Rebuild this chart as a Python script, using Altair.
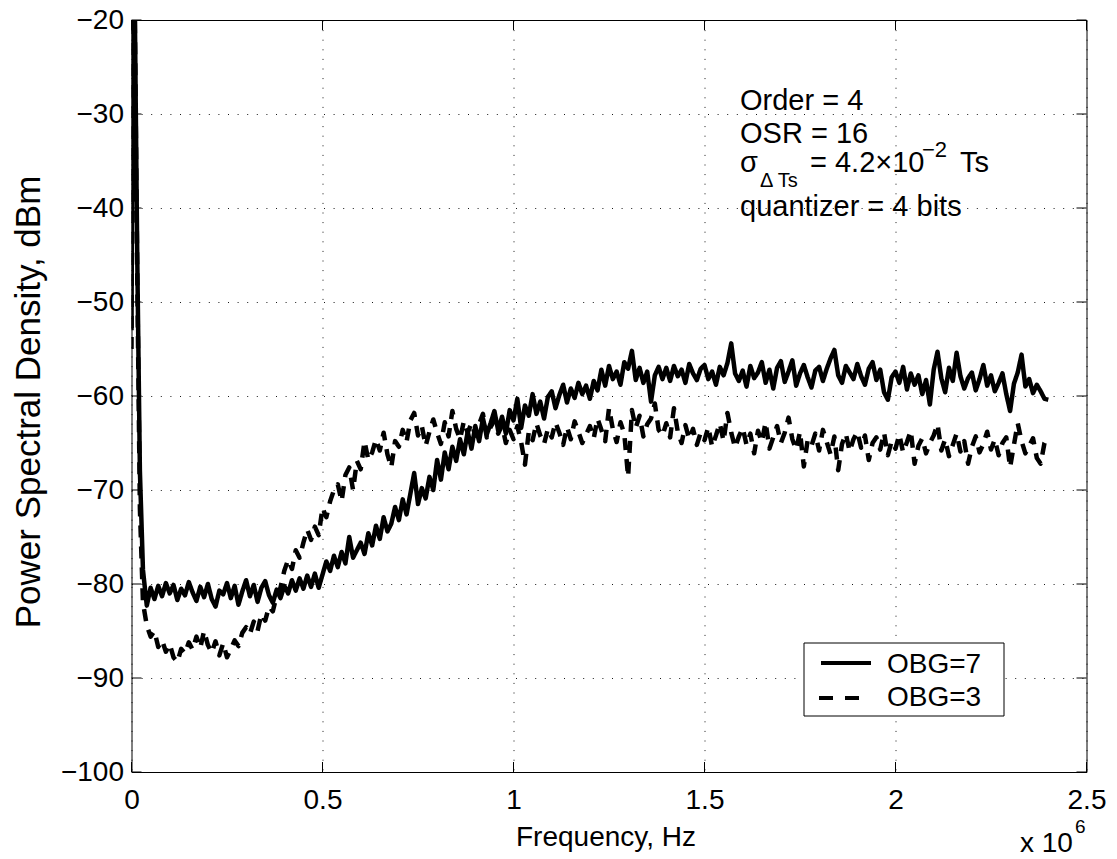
import altair as alt
import pandas as pd

FONT = "Liberation Sans"

# ---- data (frequency in units of 10^6 Hz, PSD in dBm) ----
spike_f = [0.0, 0.004, 0.008, 0.015, 0.022, 0.03]
spike_obg7 = [-53, -12, -16, -45, -68, -78.5]
spike_obg3 = [-55, -13, -17, -47, -72, -82]

F_START = 0.04
F_STEP = 0.01

obg7 = [
    -82.3, -80.4, -81.6, -80.2, -81.3, -79.9,
    -81.0, -80.1, -81.7, -80.5, -81.2, -79.8, -80.9, -81.8, -80.3, -81.4,
    -80.0, -81.6, -82.4, -80.7, -81.1, -79.9, -81.5, -80.2, -82.2, -80.8,
    -79.6, -81.3, -80.1, -81.9, -80.4, -79.7, -81.2, -82.0, -80.6, -81.5,
    -80.2, -81.0, -79.6, -80.7, -79.4, -80.5, -79.1, -80.3, -78.9, -80.4,
    -79.0, -77.6, -78.6, -77.0, -78.2, -76.6, -77.8, -75.0, -77.2, -76.4,
    -75.6, -76.8, -74.6, -75.9, -73.8, -75.2, -72.9, -74.4, -73.6, -71.8,
    -73.2, -71.0, -72.6, -70.4, -68.2, -71.5, -69.8, -70.9, -68.6, -70.0,
    -66.8, -68.9, -66.0, -67.8, -65.4, -66.9, -64.6, -66.2, -63.8, -65.6,
    -63.2, -64.8, -62.4, -64.1, -62.9, -61.6, -63.7, -62.2, -64.0, -61.5,
    -62.6, -60.3, -63.4, -61.0, -62.1, -59.8, -61.9, -60.6, -62.4, -60.1,
    -59.5, -61.3, -59.9, -58.8, -60.7, -59.2, -60.2, -58.6, -59.8, -58.9,
    -60.3, -58.4, -59.4, -57.2, -58.9, -56.8, -58.2, -57.4, -58.8, -56.4,
    -57.1, -55.2, -58.3, -57.0, -58.6, -57.4, -60.6, -57.8, -56.9, -58.2,
    -57.0, -58.4, -56.8, -57.9, -57.2, -58.6, -56.6, -57.6, -58.3, -57.1,
    -56.7, -58.2, -57.4, -58.8, -56.9, -57.8, -56.5, -54.4, -57.6, -58.4,
    -57.3, -59.0, -56.8, -58.1, -57.5, -56.4, -58.6, -57.2, -59.2, -57.0,
    -56.3, -58.5, -57.4, -56.2, -58.9, -57.6, -56.7, -58.0, -59.1, -57.3,
    -56.9, -58.4, -57.1, -56.0, -55.1, -57.8, -58.6, -56.8, -57.5, -58.2,
    -56.6, -57.9, -58.8, -57.1, -56.4, -58.3, -57.2, -59.6, -60.4, -58.0,
    -57.4, -58.6, -56.9, -59.3, -57.6, -58.8, -57.8, -59.8, -58.3, -60.9,
    -57.2, -55.3, -58.1, -59.6, -57.0, -58.4, -55.4, -57.9, -59.2, -58.1,
    -57.5, -59.4, -58.2, -56.7, -58.9, -57.8, -59.5, -58.6, -57.6, -59.8,
    -61.6, -58.7, -57.5, -55.6, -59.0, -58.2, -59.7, -58.8, -59.5, -60.3,
    -60.4,
]

obg3 = [
    -84.4, -85.6, -85.0, -86.7, -86.0, -87.2,
    -86.4, -87.8, -88.3, -86.9, -87.4, -86.2, -87.0, -85.6, -86.8, -85.0,
    -86.5, -87.3, -86.1, -87.6, -86.3, -87.8, -86.9, -86.0, -86.6, -85.2,
    -84.6, -85.3, -84.0, -85.0, -83.2, -83.9, -82.4, -82.9, -81.2, -80.4,
    -78.6, -77.4, -78.4, -76.4, -77.2, -75.6, -74.2, -75.3, -73.9, -74.8,
    -71.9, -72.9, -71.2, -70.0, -69.4, -71.2, -68.4, -67.6, -70.0, -66.9,
    -67.8, -64.8, -66.8, -66.0, -64.6, -65.8, -63.9, -66.2, -67.6, -64.8,
    -65.4, -63.6, -64.9, -62.6, -61.8, -64.2, -63.2, -65.3, -63.8, -62.5,
    -63.9, -65.1, -62.8, -64.3, -61.6, -63.5, -64.6, -62.7, -63.9, -62.9,
    -64.2, -63.0, -61.9, -64.4, -63.3, -62.6, -64.0, -63.1, -65.0, -63.6,
    -64.6, -63.2, -64.9, -67.3, -63.8, -64.7, -62.9, -64.2, -65.1, -63.5,
    -64.4, -62.8, -63.9, -65.2, -63.3, -64.6, -62.7, -63.8, -65.0, -64.1,
    -63.2, -64.5, -62.4, -63.6, -64.8, -61.3, -63.5, -64.9, -62.8, -64.0,
    -68.6, -61.5, -63.4, -62.1, -64.3, -63.0, -62.4, -60.8, -63.6, -64.2,
    -62.9, -64.4, -61.3, -63.8, -65.0, -63.1, -64.6, -63.5, -65.2, -63.9,
    -64.7, -63.3, -65.4, -64.2, -62.9, -64.8, -61.8, -63.9, -65.5, -64.3,
    -63.4, -65.2, -64.0, -66.1, -63.7, -64.9, -62.8, -65.6, -64.4, -63.2,
    -65.0, -63.9, -62.3, -64.6, -65.7, -63.8, -67.5, -64.7, -65.3, -64.0,
    -65.8, -63.6, -64.9, -66.2, -64.3, -67.9, -65.1, -64.0, -65.9, -64.6,
    -63.8, -65.5, -64.2, -66.8, -65.0, -64.4, -65.7, -63.9, -66.3, -64.8,
    -65.6, -64.1, -66.0, -64.9, -63.7, -67.2, -65.3, -64.5, -66.1, -65.0,
    -64.2, -63.0, -65.8, -64.6, -66.4, -65.2, -64.0, -65.9, -64.8, -67.2,
    -65.4, -64.3, -66.0, -65.1, -63.8, -65.7, -64.6, -66.3, -65.0, -64.4,
    -67.6, -65.2, -62.9, -64.8, -66.1, -65.3, -64.5, -66.6, -67.2, -65.0,
    -64.3,
]

series_names = ["OBG=7", "OBG=3"]
x_ticks = [0, 0.5, 1, 1.5, 2, 2.5]
y_ticks = [-100, -90, -80, -70, -60, -50, -40, -30, -20]

annotation_lines = ["Order = 4", "OSR = 16", "quantizer = 4 bits"]
sigma_parts = ["σ", "Δ Ts", "= 4.2×10", "−2", "Ts"]

# ---- build table ----
freq = [round(F_START + F_STEP * i, 3) for i in range(len(obg7))]
rows = []
for name, spike, vals in [(series_names[0], spike_obg7, obg7), (series_names[1], spike_obg3, obg3)]:
    for f, v in zip(spike_f, spike):
        rows.append({"f": f, "psd": v, "series": name})
    for f, v in zip(freq, vals):
        rows.append({"f": f, "psd": v, "series": name})
df = pd.DataFrame(rows)

W, H = 955, 752
xscale = alt.Scale(domain=[0, 2.5], nice=False, zero=False)
yscale = alt.Scale(domain=[-100, -20], nice=False, zero=False)
x_axis = alt.Axis(values=x_ticks, format="~g", title="Frequency, Hz",
                  titleX=474, titleY=73, titleBaseline="alphabetic",
                  titleAlign="center", labelPadding=14, labelFlush=False)
y_axis = alt.Axis(values=y_ticks, format="d", title="Power Spectral Density, dBm",
                  titleX=-92, titleY=381.5, titleBaseline="alphabetic",
                  titleAlign="center", titleFontSize=35, labelPadding=8,
                  labelFlush=False)

lines = alt.Chart(df).mark_line(
    clip=True, strokeWidth=4.5, strokeJoin="round", color="black"
).encode(
    x=alt.X("f:Q", scale=xscale, axis=x_axis),
    y=alt.Y("psd:Q", scale=yscale, axis=y_axis),
    strokeDash=alt.StrokeDash("series:N",
                              scale=alt.Scale(domain=series_names, range=[[1, 0], [12, 9]]),
                              legend=None),
)

xt = pd.DataFrame({"f": x_ticks})
yt = pd.DataFrame({"psd": y_ticks})
TL = 10
tick_layers = [
    alt.Chart(xt).mark_rule(color="black", strokeWidth=1).encode(
        x=alt.X("f:Q", scale=xscale, axis=x_axis), y=alt.value(H), y2=alt.value(H - TL)),
    alt.Chart(xt).mark_rule(color="black", strokeWidth=1).encode(
        x=alt.X("f:Q", scale=xscale, axis=x_axis), y=alt.value(0), y2=alt.value(TL)),
    alt.Chart(yt).mark_rule(color="black", strokeWidth=1).encode(
        y=alt.Y("psd:Q", scale=yscale, axis=y_axis), x=alt.value(0), x2=alt.value(TL)),
    alt.Chart(yt).mark_rule(color="black", strokeWidth=1).encode(
        y=alt.Y("psd:Q", scale=yscale, axis=y_axis), x=alt.value(W), x2=alt.value(W - TL)),
]


def label(text, x, y, size=28):
    return alt.Chart(pd.DataFrame({"s": [text]})).mark_text(
        align="left", baseline="alphabetic", fontSize=size, font=FONT, color="black"
    ).encode(x=alt.value(x), y=alt.value(y), text="s:N")


texts = [
    label(annotation_lines[0], 608.5, 90, 29),
    label(annotation_lines[1], 608.5, 122.5, 29),
    label(sigma_parts[0], 608.5, 152, 29),
    label(sigma_parts[1], 628.5, 167, 20),
    label(sigma_parts[2], 678.5, 152, 29),
    label(sigma_parts[3], 790.5, 137, 22),
    label(sigma_parts[4], 828.5, 152, 29),
    label(annotation_lines[2], 608.5, 196, 29),
    label("x 10", 888.5, 831.5, 28),
    label("6", 943.5, 812.5, 19),
]

legend_box = alt.Chart(pd.DataFrame({"a": [0]})).mark_rect(
    fill="white", stroke="black", strokeWidth=1
).encode(x=alt.value(672.5), x2=alt.value(872.5), y=alt.value(623), y2=alt.value(696))
legend_solid = alt.Chart(pd.DataFrame({"a": [0]})).mark_rule(
    color="black", strokeWidth=4
).encode(x=alt.value(689.5), x2=alt.value(739.5), y=alt.value(643))
legend_dash = alt.Chart(pd.DataFrame({"a": [0]})).mark_rule(
    color="black", strokeWidth=4, strokeDash=[14, 12]
).encode(x=alt.value(687.5), x2=alt.value(727.5), y=alt.value(678))
legend_texts = [
    label(series_names[0], 755.5, 653, 28),
    label(series_names[1], 755.5, 686, 28),
]

chart = alt.layer(
    lines, *tick_layers, legend_box, legend_solid, legend_dash, *legend_texts, *texts
).properties(
    width=W, height=H,
    autosize=alt.AutoSizeParams(type="none"),
    padding={"left": 131.5, "top": 20, "right": 30.5, "bottom": 87},
    background="white",
).configure_view(
    stroke="black", strokeWidth=1
).configure_axis(
    labelFont=FONT, labelFontSize=28, labelColor="black",
    titleFont=FONT, titleFontSize=28, titleColor="black", titleFontWeight="normal",
    grid=True, gridColor="black", gridDash=[1, 8.6], gridWidth=1, gridOpacity=0.9,
    domain=False, ticks=False, tickSize=0,
)

chart.save("out.html", embed_options={"renderer": "svg", "actions": False})
